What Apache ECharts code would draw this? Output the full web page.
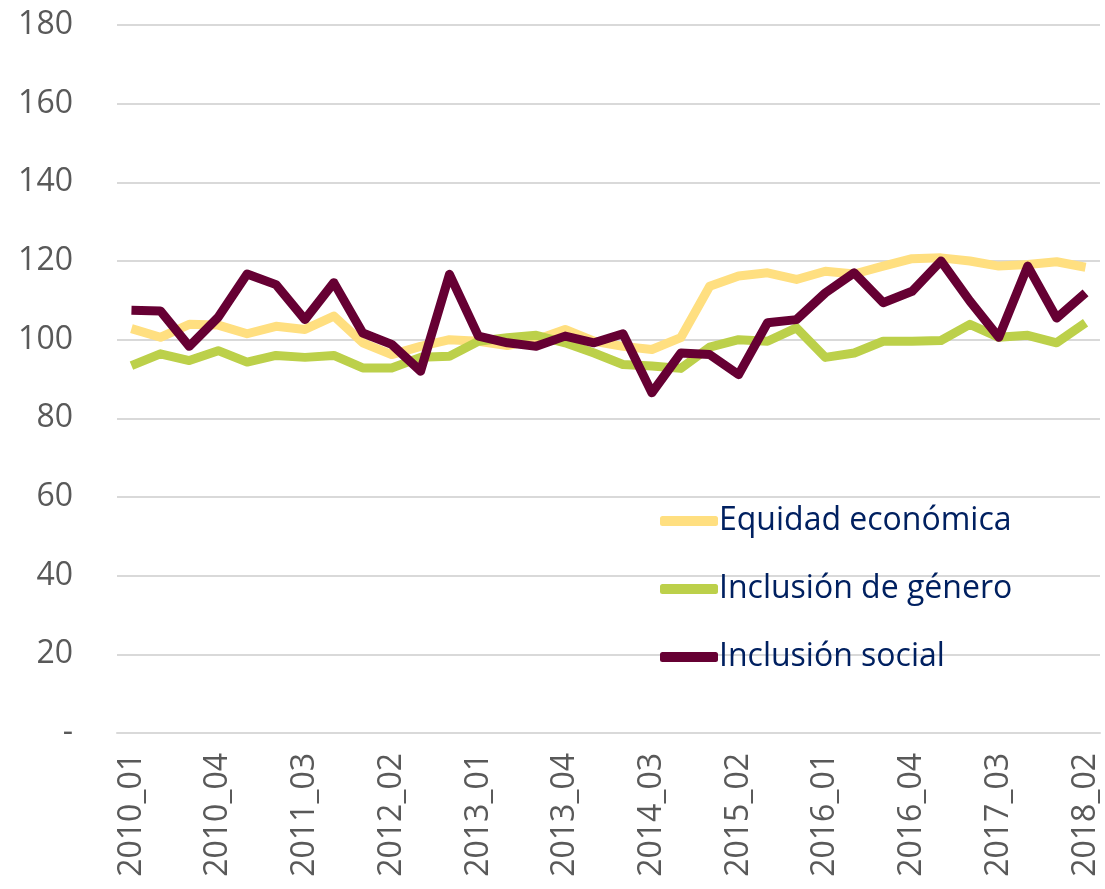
<!DOCTYPE html>
<html>
<head>
<meta charset="utf-8">
<script src="https://cdn.jsdelivr.net/npm/echarts@6/dist/echarts.min.js"></script>
<style>
  html, body { margin: 0; padding: 0; background: #fff; }
  #chart { width: 1105px; height: 889px; }
</style>
</head>
<body>
<div id="chart"></div>
<script>
// trimestres 2010_01 .. 2018_02
const quarters = []
for (let y = 2010; y <= 2018; y++) {
  for (let q = 1; q <= 4; q++) {
    if (y === 2018 && q > 2) break
    quarters.push(y + '_0' + q)
  }
}

const seriesNames = ['Equidad económica', 'Inclusión de género', 'Inclusión social']

const equidad = [102.8, 100.6, 103.9, 103.7, 101.5, 103.4, 102.6, 106.0, 99.2, 96.2,
  98.3, 100.0, 99.6, 98.5, 100.0, 102.6, 99.6, 98.3, 97.5, 100.5,
  113.6, 116.2, 117.0, 115.3, 117.4, 116.7, 118.7, 120.6, 120.8, 120.0,
  118.7, 119.1, 119.8, 118.4]

const genero = [93.4, 96.4, 94.7, 97.2, 94.3, 96.0, 95.5, 96.0, 92.8, 92.8,
  95.5, 95.8, 99.6, 100.5, 101.1, 99.2, 96.6, 93.7, 93.3, 92.7,
  98.1, 100.0, 99.6, 103.0, 95.5, 96.6, 99.6, 99.6, 99.8, 103.9,
  100.6, 101.1, 99.2, 104.3]

const social = [107.5, 107.3, 98.3, 105.7, 116.7, 114.0, 105.1, 114.5, 101.7, 98.8,
  92.0, 116.6, 100.9, 99.2, 98.3, 100.9, 99.2, 101.5, 86.5, 96.6,
  96.2, 91.1, 104.3, 105.1, 111.9, 117.0, 109.4, 112.3, 120.0, 109.8,
  100.6, 118.7, 105.5, 111.9]

const colors = ['#FFDF80', '#BCD04A', '#660033']
const values = [equidad, genero, social]

const myChart = echarts.init(document.getElementById('chart'))
myChart.setOption({
  animation: false,
  textStyle: {
    fontFamily: 'Open Sans'
  },
  grid: {
    left: 117,
    right: 5,
    top: 25,
    bottom: 156
  },
  legend: {
    orient: 'vertical',
    left: 655,
    top: 499,
    itemWidth: 58,
    itemHeight: 10,
    itemGap: 34,
    icon: 'roundRect',
    textStyle: {
      color: '#002060',
      fontSize: 32,
      lineHeight: 34,
      padding: [0, 0, 0, -4]
    },
    data: seriesNames
  },
  xAxis: {
    type: 'category',
    data: quarters,
    boundaryGap: true,
    axisTick: { show: false },
    axisLine: {
      lineStyle: { color: '#D9D9D9', width: 2 }
    },
    axisLabel: {
      interval: 2,
      rotate: 90,
      margin: 20,
      color: '#595959',
      fontSize: 32
    }
  },
  yAxis: {
    type: 'value',
    min: 0,
    max: 180,
    interval: 20,
    axisTick: { show: false },
    axisLine: { show: false },
    splitLine: {
      lineStyle: { color: '#D9D9D9', width: 2 }
    },
    axisLabel: {
      margin: 44,
      color: '#595959',
      fontSize: 32,
      formatter: function (v) {
        return v === 0 ? '-' : v
      }
    }
  },
  series: seriesNames.map((name, i) => ({
    name: name,
    type: 'line',
    data: values[i],
    symbol: 'none',
    color: colors[i],
    lineStyle: {
      width: 9,
      color: colors[i],
      join: 'round'
    }
  }))
})
</script>
</body>
</html>
